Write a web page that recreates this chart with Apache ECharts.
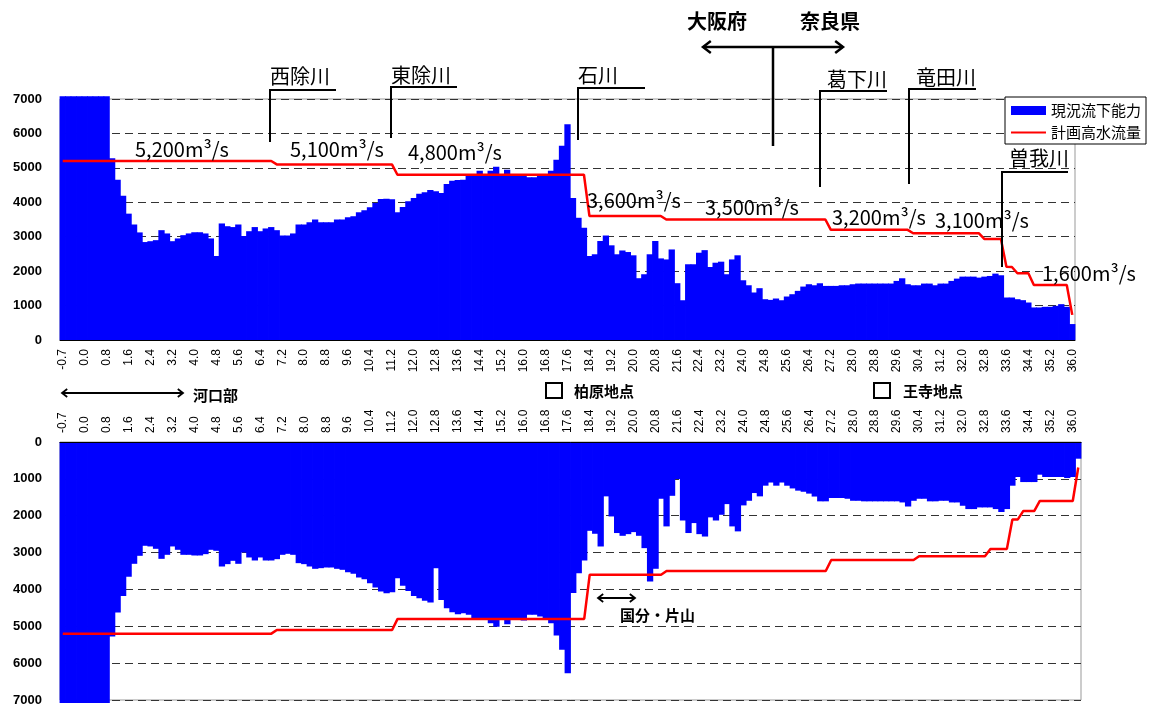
<!DOCTYPE html>
<html>
<head>
<meta charset="utf-8">
<script src="https://cdn.jsdelivr.net/npm/echarts@6/dist/echarts.min.js"></script>
<style>
  html, body { margin: 0; padding: 0; background: #fff; }
  #chart { width: 1158px; height: 708px; }
</style>
</head>
<body>
<div id="chart"></div>
<script>
// km posts: river mouth stations, then every 0.2 km
var kmMouth = ['-0.7', '-0.6', '-0.4', '-0.2'];
function kmList(lastStep) {
    var out = kmMouth.slice();
    for (var k = 0; k <= lastStep; k++) out.push((k * 0.2).toFixed(1));
    return out;
}
var catsTop = kmList(180);      // -0.7 ... 36.0
var catsBottom = kmList(181);   // -0.7 ... 36.2

var yTicks = [0, 1000, 2000, 3000, 4000, 5000, 6000, 7000];

// 現況流下能力 (upper panel)
var capacityTop = [
    7080, 7080, 7080, 7080, 7080, 7080, 7080, 7080, 7080, 5280,
    4655, 4190, 3670, 3355, 3125, 2845, 2870, 2900, 3190, 3095,
    2870, 2950, 3045, 3095, 3130, 3130, 3095, 2950, 2440, 3385,
    3305, 3280, 3355, 3020, 3160, 3280, 3160, 3240, 3280, 3190,
    3035, 3035, 3095, 3355, 3355, 3420, 3500, 3420, 3420, 3420,
    3500, 3500, 3565, 3595, 3710, 3770, 3855, 3980, 4095, 4105,
    4090, 3710, 3865, 4030, 4125, 4250, 4290, 4355, 4320, 4270,
    4530, 4625, 4645, 4655, 4800, 4800, 4915, 4800, 4915, 5030,
    4800, 4945, 4820, 4820, 4800, 4725, 4725, 4800, 4820, 4915,
    5235, 5640, 6265, 4125, 3550, 3260, 2440, 2490, 2875, 3035,
    2750, 2490, 2600, 2555, 2460, 1795, 1910, 2490, 2875, 2370,
    2340, 2630, 1650, 1155, 2200, 2200, 2535, 2610, 2120, 2245,
    2275, 1910, 2340, 2460, 1735, 1590, 1380, 1505, 1185, 1165,
    1205, 1155, 1263, 1330, 1427, 1552, 1620, 1590, 1648, 1571,
    1571, 1571, 1590, 1590, 1620, 1640, 1640, 1640, 1640, 1640,
    1640, 1640, 1716, 1793, 1620, 1590, 1590, 1639, 1639, 1590,
    1639, 1639, 1716, 1783, 1841, 1841, 1841, 1812, 1841, 1860,
    1928, 1880, 1234, 1234, 1185, 1157, 1089, 945, 945, 964,
    964, 993, 1041, 964, 463
];

// 現況流下能力 (lower panel)
var capacityBottom = [
    7080, 7080, 7080, 7080, 7080, 7080, 7080, 7080, 7080, 5280,
    4628, 4175, 3659, 3305, 3088, 2816, 2834, 2898, 3170, 3061,
    2834, 2925, 3061, 3061, 3079, 3079, 3043, 2925, 2952, 3378,
    3314, 3224, 3305, 2997, 3133, 3215, 3133, 3215, 3215, 3179,
    3061, 3034, 3061, 3287, 3314, 3378, 3441, 3423, 3405, 3405,
    3441, 3468, 3532, 3577, 3677, 3722, 3831, 3948, 4057, 4102,
    4075, 3695, 3900, 4040, 4175, 4240, 4310, 4355, 3425, 4285,
    4510, 4620, 4675, 4645, 4690, 4780, 4825, 4825, 4915, 5010,
    4825, 4945, 4800, 4800, 4845, 4690, 4690, 4735, 4780, 4915,
    5250, 5640, 6275, 4100, 3560, 3215, 2410, 2490, 2835, 1475,
    2020, 2470, 2545, 2500, 2445, 2545, 2880, 3785, 3440, 1540,
    2290, 1460, 1005, 2130, 2470, 2200, 2500, 2565, 2045, 2130,
    1975, 1685, 2290, 2425, 1720, 1595, 1385, 1475, 1185, 1100,
    1185, 1100, 1186, 1260, 1320, 1350, 1400, 1480, 1610, 1610,
    1520, 1520, 1520, 1540, 1595, 1595, 1610, 1610, 1610, 1610,
    1610, 1610, 1610, 1640, 1750, 1595, 1540, 1540, 1610, 1610,
    1595, 1595, 1640, 1640, 1730, 1820, 1820, 1775, 1775, 1775,
    1820, 1900, 1820, 1186, 950, 1087, 1087, 1087, 887, 950,
    950, 950, 950, 978, 950, 453
];

// 計画高水流量 break points
var planTopKm = ['-0.7', '6.8', '7.0', '11.2', '11.4', '18.2', '18.4', '21.0', '21.2', '27.0', '27.2', '30.0',
    '30.2', '32.6', '32.8', '33.4', '33.6', '33.8', '34.0', '34.4', '34.6', '35.8', '36.0'];
var planTopFlow = [5200, 5200, 5100, 5100, 4800, 4800, 3600, 3600, 3500, 3500, 3200, 3200,
    3100, 3100, 2930, 2930, 2130, 2120, 1940, 1940, 1600, 1600, 730];
var planBottomKm = ['-0.7', '6.8', '7.0', '11.2', '11.4', '18.2', '18.4', '21.0', '21.2', '27.0', '27.2', '30.2',
    '30.4', '32.8', '33.0', '33.6', '33.8', '34.0', '34.2', '34.6', '34.8', '36.0', '36.2'];
var planBottomFlow = [5200, 5200, 5100, 5100, 4800, 4800, 3600, 3600, 3500, 3500, 3200, 3200,
    3100, 3100, 2900, 2900, 2100, 2100, 1870, 1870, 1600, 1600, 690];

var flowLabels = ['5,200m³/s', '5,100m³/s', '4,800m³/s', '3,600m³/s', '3,500m³/s', '3,200m³/s', '3,100m³/s', '1,600m³/s'];
var tributaries = ['西除川', '東除川', '石川', '葛下川', '竜田川', '曽我川'];

var JP = '"Noto Sans CJK JP", sans-serif';

function planData(km, flow, cats) {
    return km.map(function (k, i) { return [cats.indexOf(k), flow[i]]; });
}

function txt(x, y, s, font) {
    return { type: 'text', x: x, y: y, z: 50,
        style: { text: s, font: font, fill: '#000', align: 'left', verticalAlign: 'middle' } };
}
function pline(points, w) {
    return { type: 'polyline', z: 50, shape: { points: points },
        style: { stroke: '#000', lineWidth: w || 2, fill: null } };
}
// horizontal double headed arrow
function arrow(x1, x2, y, w, h) {
    return [
        pline([[x1, y], [x2, y]], w),
        pline([[x1 + h * 1.3, y - h], [x1, y], [x1 + h * 1.3, y + h]], w),
        pline([[x2 - h * 1.3, y - h], [x2, y], [x2 - h * 1.3, y + h]], w)
    ];
}
function box(x, y) {
    return { type: 'rect', z: 50, shape: { x: x, y: y, width: 16, height: 15 },
        style: { fill: '#fff', stroke: '#000', lineWidth: 2 } };
}

var flowFont = '20px ' + JP;
var nameFont = '20px ' + JP;
var boldFont = 'bold 20px ' + JP;
var smallBold = 'bold 15px ' + JP;

var graphics = [
    // flow labels
    txt(135, 149, flowLabels[0], flowFont),
    txt(290, 149, flowLabels[1], flowFont),
    txt(408, 152, flowLabels[2], flowFont),
    txt(587, 200, flowLabels[3], flowFont),
    txt(705, 207, flowLabels[4], flowFont),
    txt(832, 217, flowLabels[5], flowFont),
    txt(935, 220, flowLabels[6], flowFont),
    txt(1042, 273, flowLabels[7], flowFont),
    // tributaries
    txt(270, 76, tributaries[0], nameFont),
    pline([[336, 90], [270, 90], [270, 142]]),
    txt(391, 75, tributaries[1], nameFont),
    pline([[457, 87], [391, 87], [391, 138]]),
    txt(578, 75, tributaries[2], nameFont),
    pline([[645, 88], [578, 88], [578, 140]]),
    txt(827, 79, tributaries[3], nameFont),
    pline([[887, 91], [820, 91], [820, 187]]),
    txt(916, 77, tributaries[4], nameFont),
    pline([[976, 89], [909, 89], [909, 184]]),
    txt(1009, 158, tributaries[5], nameFont),
    pline([[1068, 172], [1002, 172], [1002, 267]]),
    // prefecture border
    txt(687, 21, '大阪府', boldFont),
    txt(800, 21, '奈良県', boldFont),
    pline([[773, 47], [773, 146]], 2.5),
    // points between panels
    txt(193, 395, '河口部', smallBold),
    box(546, 383),
    txt(574, 391, '柏原地点', smallBold),
    box(874, 383),
    txt(903, 391, '王寺地点', smallBold),
    txt(620, 615, '国分・片山', smallBold)
].concat(arrow(703, 843, 47, 2.5, 6))
 .concat(arrow(62, 183, 393, 1.8, 4))
 .concat(arrow(598, 635, 598, 1.8, 4));

function xAxisCfg(grid, cats, pos) {
    return {
        type: 'category', gridIndex: grid, data: cats, position: pos, z: 5,
        axisLine: { lineStyle: { color: '#000', width: 1 } },
        axisTick: { interval: 0, inside: true, length: 3, lineStyle: { color: '#000' } },
        axisLabel: { interval: 3, rotate: 90, fontSize: 12, margin: 9, color: '#000',
            fontFamily: '"Liberation Sans", Arial, sans-serif' },
        splitLine: { show: false }
    };
}
function yAxisCfg(grid, inverse) {
    return {
        type: 'value', gridIndex: grid, min: yTicks[0], max: yTicks[yTicks.length - 1],
        interval: yTicks[1] - yTicks[0], inverse: inverse,
        axisLine: { show: false }, axisTick: { show: false },
        axisLabel: { fontSize: 13, fontWeight: 'bold', color: '#000', margin: 18,
            fontFamily: '"Liberation Sans", Arial, sans-serif',
            formatter: function (v) { return String(v); } },
        splitLine: { show: true, lineStyle: { color: '#333', type: [8, 5], width: 1 } }
    };
}
function barSeries(idx, data) {
    // bars a little wider than one category so neighbours overlap and leave no seams
    return {
        name: '現況流下能力', type: 'bar', xAxisIndex: idx, yAxisIndex: idx,
        data: data, barWidth: 6.3, clip: false, z: 2,
        itemStyle: { color: '#0000ff', borderWidth: 0 },
        emphasis: { disabled: true }, animation: false
    };
}
function planSeries(idx, data) {
    return {
        name: '計画高水流量', type: 'line', xAxisIndex: idx, yAxisIndex: idx,
        data: data, symbol: 'none', z: 3,
        lineStyle: { color: '#ff0000', width: 2.5 }, itemStyle: { color: '#ff0000' },
        animation: false
    };
}

// thin line icon for the legend (slivers at top / bottom keep the box height)
var lineIcon = 'path://M0 0L35 0L35 0.01L0 0.01Z M0 3.6L35 3.6L35 5.6L0 5.6Z M0 9L35 9L35 9.01L0 9.01Z';

var chart = echarts.init(document.getElementById('chart'));
chart.setOption({
    backgroundColor: '#fff',
    animation: false,
    grid: [
        { left: 60, top: 99, width: 1015, height: 241, show: true, borderColor: '#999', borderWidth: 1 },
        { left: 60, top: 442, width: 1021, height: 258, show: true, borderColor: '#999', borderWidth: 1 }
    ],
    legend: {
        left: 1005, top: 97, orient: 'vertical',
        itemWidth: 35, itemHeight: 9, itemGap: 7,
        padding: [6, 5, 4, 6],
        backgroundColor: '#fff', borderColor: '#000', borderWidth: 1, borderRadius: 0,
        textStyle: { fontSize: 15, color: '#000', fontFamily: JP },
        data: [
            { name: '現況流下能力', icon: 'rect' },
            { name: '計画高水流量', icon: lineIcon, itemStyle: { color: '#ff0000' } }
        ]
    },
    xAxis: [xAxisCfg(0, catsTop, 'bottom'), xAxisCfg(1, catsBottom, 'top')],
    yAxis: [yAxisCfg(0, false), yAxisCfg(1, true)],
    series: [
        barSeries(0, capacityTop),
        barSeries(1, capacityBottom),
        planSeries(0, planData(planTopKm, planTopFlow, catsTop)),
        planSeries(1, planData(planBottomKm, planBottomFlow, catsBottom))
    ],
    graphic: graphics
});
</script>
</body>
</html>
